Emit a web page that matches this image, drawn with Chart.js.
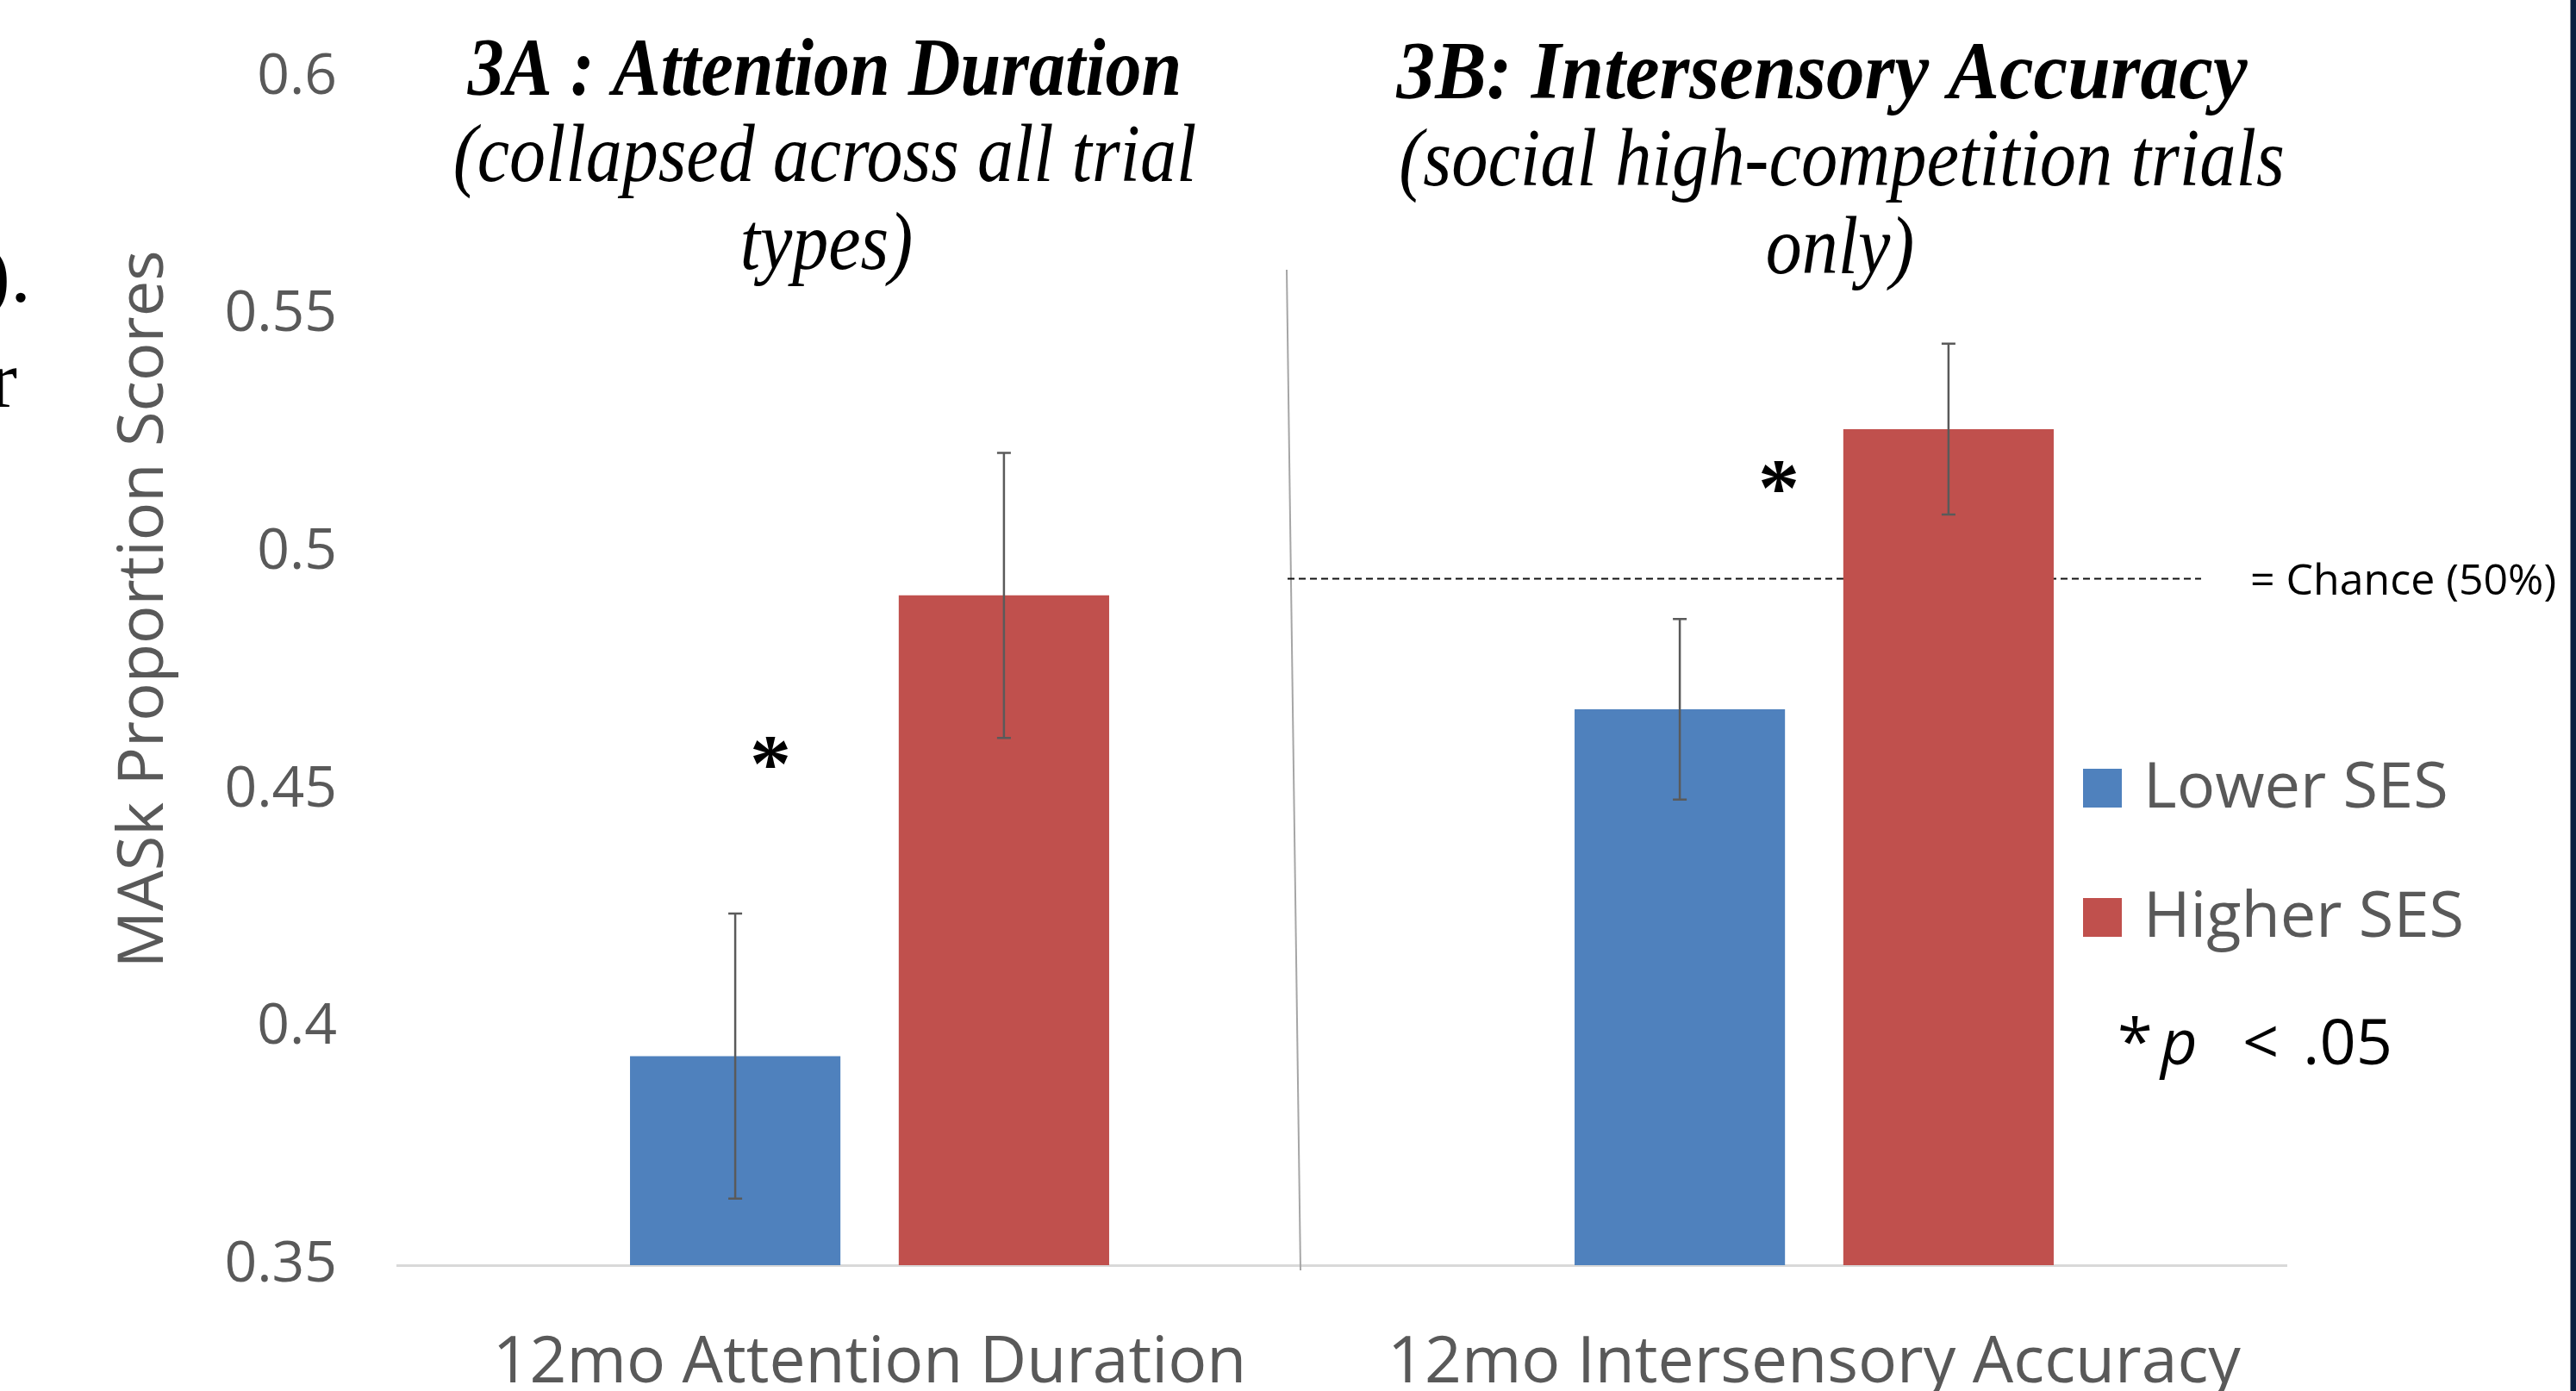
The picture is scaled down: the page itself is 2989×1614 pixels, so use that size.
<!DOCTYPE html>
<html>
<head>
<meta charset="utf-8">
<title>MASk proportion scores by SES</title>
<script src="https://cdn.jsdelivr.net/npm/chart.js@4.4.1/dist/chart.umd.min.js"></script>
<style>
  html, body { margin: 0; padding: 0; background: #fff; }
  #wrap { width: 2989px; height: 1614px; }
</style>
</head>
<body>
<div id="wrap"><canvas id="masChart" width="2989" height="1614"></canvas></div>
<script>
// values
const categories = ['12mo Attention Duration', '12mo Intersensory Accuracy'];
const lowerSES = [0.394, 0.467];
const higherSES = [0.491, 0.526];
const lowerErr = [0.030, 0.019];
const higherErr = [0.030, 0.018];
const chanceLevel = 0.4945;
const sigLevel = [0.458, 0.516];
const yTicks = [0.35, 0.4, 0.45, 0.5, 0.55, 0.6];

const BLUE = '#4F81BD';
const RED = '#C0504D';
const GREY_TEXT = '#595959';
const SANS = "'Open Sans', sans-serif";
const SERIF = "'Liberation Serif', 'Times New Roman', serif";

Chart.defaults.font.family = SANS;

function textAt(ctx, str, font, x, y, opts = {}) {
  ctx.save();
  ctx.font = font;
  ctx.fillStyle = opts.color || '#000';
  ctx.textBaseline = 'alphabetic';
  const sx = opts.scaleX || 1;
  const w = ctx.measureText(str).width * sx;
  let left = x;
  if (opts.align === 'center') left = x - w / 2;
  ctx.translate(left, y);
  ctx.scale(sx, 1);
  ctx.textAlign = 'left';
  ctx.fillText(str, 0, 0);
  ctx.restore();
}

const overlay = {
  id: 'overlay',
  beforeDatasetsDraw(chart) {
    const { ctx, scales: { y } } = chart;
    ctx.save();
    // divider between the two panels
    ctx.strokeStyle = '#a6a6a6';
    ctx.lineWidth = 2;
    ctx.beginPath();
    ctx.moveTo(1493, 313);
    ctx.lineTo(1509, 1474);
    ctx.stroke();
    // chance line in panel B
    const cy = y.getPixelForValue(chanceLevel);
    ctx.strokeStyle = '#111';
    ctx.lineWidth = 2;
    ctx.setLineDash([8, 5]);
    ctx.beginPath();
    ctx.moveTo(1494, cy);
    ctx.lineTo(2554, cy);
    ctx.stroke();
    ctx.restore();
  },
  afterDatasetsDraw(chart) {
    const { ctx, scales: { x, y } } = chart;
    const errs = [lowerErr, higherErr];
    ctx.save();
    ctx.strokeStyle = '#5a5a5a';
    ctx.lineWidth = 2.5;
    chart.data.datasets.forEach((ds, d) => {
      chart.getDatasetMeta(d).data.forEach((bar, i) => {
        const v = ds.data[i], e = errs[d][i];
        const t = y.getPixelForValue(v + e), b = y.getPixelForValue(v - e);
        ctx.beginPath();
        ctx.moveTo(bar.x, t); ctx.lineTo(bar.x, b);
        ctx.moveTo(bar.x - 8, t); ctx.lineTo(bar.x + 8, t);
        ctx.moveTo(bar.x - 8, b); ctx.lineTo(bar.x + 8, b);
        ctx.stroke();
      });
    });
    ctx.restore();

    // significance asterisks
    const offs = [-115, -41];
    ctx.save();
    ctx.font = 'bold 96px ' + SERIF;
    ctx.fillStyle = '#000';
    ctx.textAlign = 'center';
    sigLevel.forEach((lv, i) => {
      const m = ctx.measureText('*');
      const cy = y.getPixelForValue(lv);
      const base = cy + (m.actualBoundingBoxAscent - m.actualBoundingBoxDescent) / 2;
      ctx.fillText('*', x.getPixelForValue(i) + offs[i], base);
    });
    ctx.restore();
  },
  afterDraw(chart) {
    const { ctx } = chart;
    const bi = 'italic bold 96px ' + SERIF;
    const it = 'italic 96px ' + SERIF;

    // panel titles
    textAt(ctx, '3A : Attention Duration', bi, 957, 110, { align: 'center', scaleX: 0.875 });
    textAt(ctx, '(collapsed across all trial', it, 957, 210, { align: 'center', scaleX: 0.875 });
    textAt(ctx, 'types)', it, 959, 312, { align: 'center', scaleX: 0.875 });
    textAt(ctx, '3B: Intersensory Accuracy', bi, 2114, 114, { align: 'center', scaleX: 0.93 });
    textAt(ctx, '(social high-competition trials', it, 2137, 215, { align: 'center', scaleX: 0.88 });
    textAt(ctx, 'only)', it, 2135, 317, { align: 'center', scaleX: 0.875 });

    // y axis title
    ctx.save();
    ctx.translate(168, 707);
    ctx.rotate(-Math.PI / 2);
    ctx.font = '74px ' + SANS;
    ctx.fillStyle = GREY_TEXT;
    ctx.textAlign = 'center';
    ctx.textBaseline = 'middle';
    ctx.fillText('MASk Proportion Scores', 0, 0);
    ctx.restore();

    // legend
    const rows = [937, 1087];
    chart.data.datasets.forEach((ds, i) => {
      ctx.fillStyle = ds.backgroundColor;
      ctx.fillRect(2417, rows[i] - 45, 45, 45);
      textAt(ctx, ds.label, '74px ' + SANS, 2487, rows[i], { color: GREY_TEXT });
    });

    // notes
    textAt(ctx, '= Chance (50%)', '50px ' + SANS, 2611, 690);
    textAt(ctx, '*', '74px ' + SANS, 2457, 1235);
    textAt(ctx, 'p', 'italic 74px ' + SANS, 2507, 1235);
    textAt(ctx, '<', '74px ' + SANS, 2602, 1235);
    textAt(ctx, '.05', '74px ' + SANS, 2672, 1235);

    // page fragments at the left edge
    textAt(ctx, ').', '96px ' + SERIF, -20, 350);
    textAt(ctx, 'r', '96px ' + SERIF, -12, 472);

    // slide border at the right edge
    ctx.fillStyle = '#0c1f3f';
    ctx.fillRect(2983, 0, 6, 1614);
    ctx.fillStyle = '#8a8f99';
    ctx.fillRect(2982, 0, 1, 1614);
  }
};

new Chart(document.getElementById('masChart'), {
  type: 'bar',
  data: {
    labels: categories,
    datasets: [
      { label: 'Lower SES', data: lowerSES, backgroundColor: BLUE },
      { label: 'Higher SES', data: higherSES, backgroundColor: RED }
    ]
  },
  options: {
    responsive: false,
    animation: false,
    devicePixelRatio: 1,
    layout: { padding: { top: 90, right: 336, left: 0, bottom: 0 } },
    datasets: { bar: { categoryPercentage: 0.569, barPercentage: 0.783 } },
    plugins: { legend: { display: false }, tooltip: { enabled: false } },
    scales: {
      x: {
        grid: { display: false, drawTicks: false },
        border: { display: true, color: '#d9d9d9', width: 3 },
        ticks: { color: GREY_TEXT, font: { size: 75 }, padding: 70, maxRotation: 0 },
        afterFit: s => { s.height = 146; }
      },
      y: {
        min: 0.35,
        max: 0.6,
        grid: { display: false, drawTicks: false },
        border: { display: false },
        afterBuildTicks: s => { s.ticks = yTicks.map(v => ({ value: v })); },
        ticks: { color: GREY_TEXT, font: { size: 66 }, padding: 70, callback: v => String(v) },
        afterFit: s => { s.width = 461; s.paddingTop = 0; s.paddingBottom = 0; }
      }
    }
  },
  plugins: [overlay]
});
</script>
</body>
</html>
